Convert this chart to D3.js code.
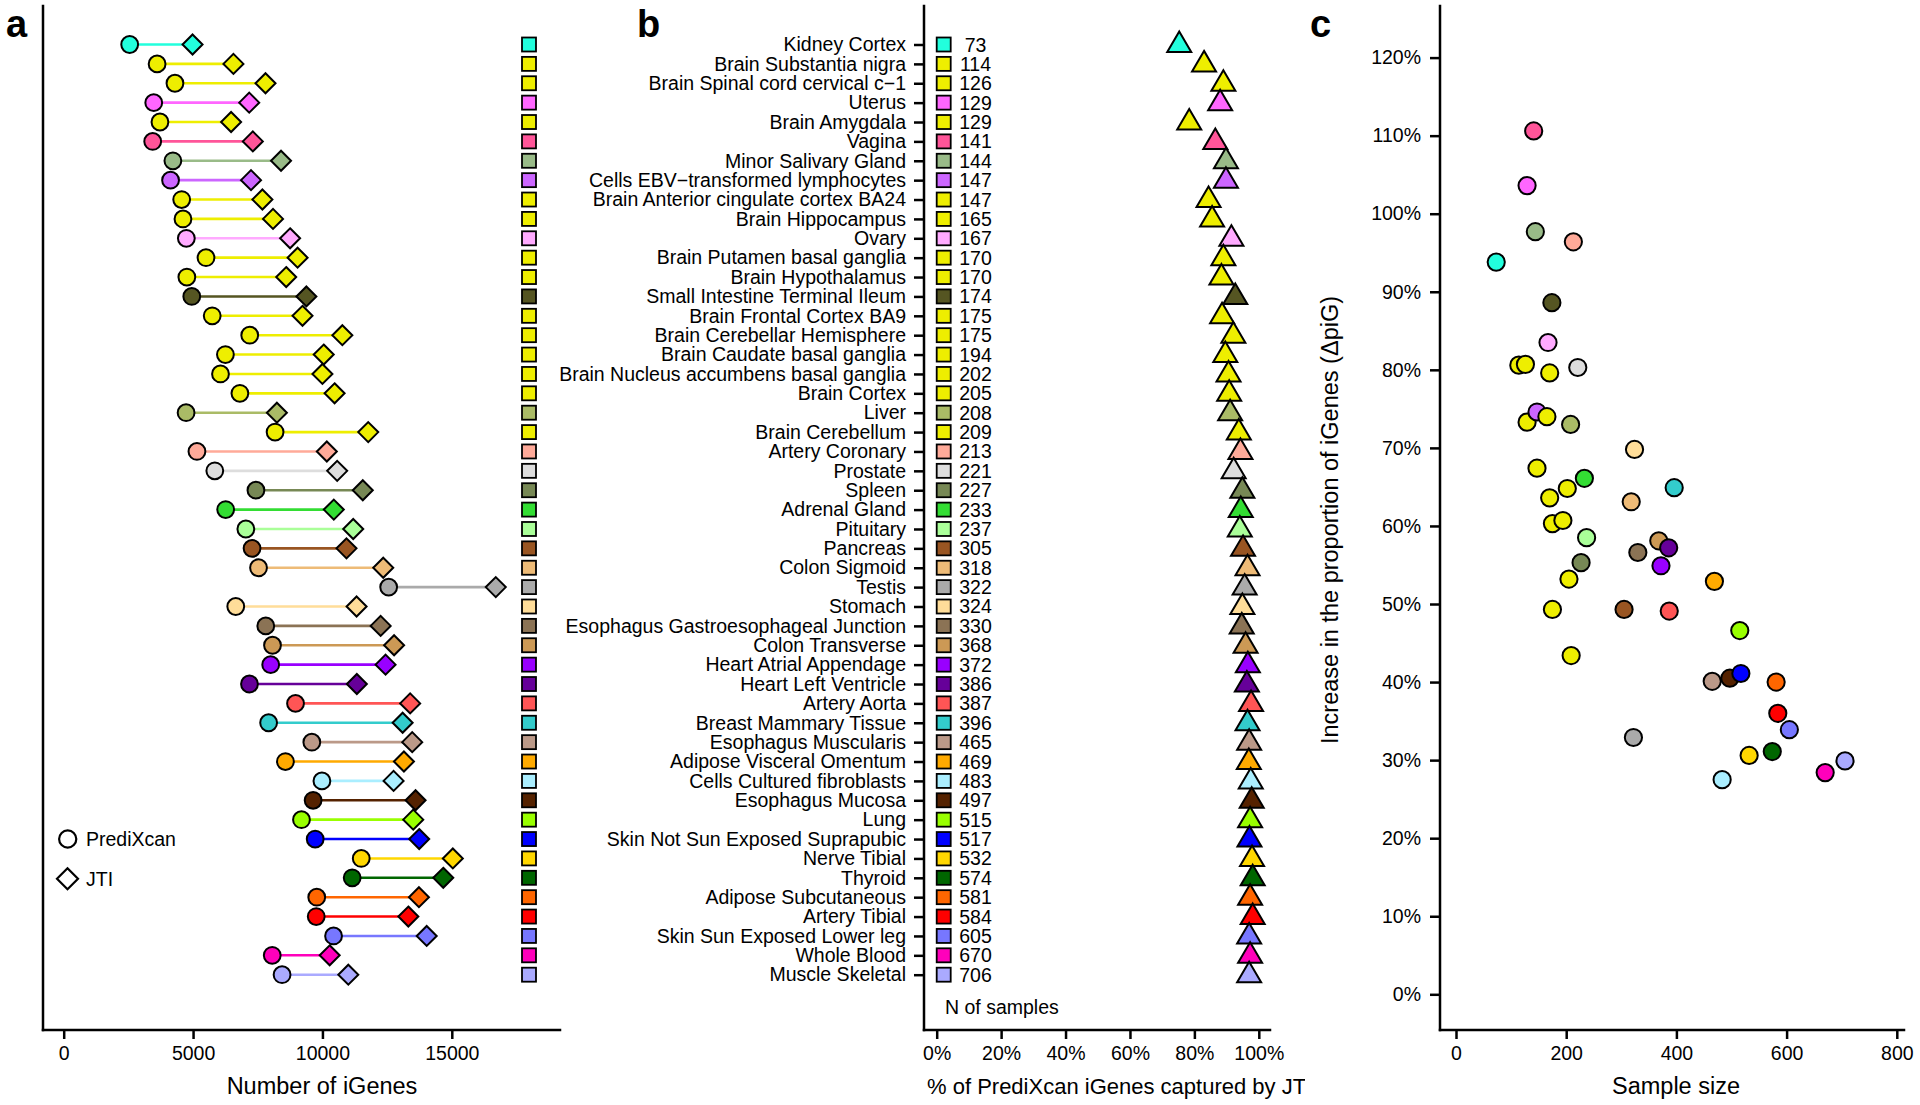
<!DOCTYPE html>
<html><head><meta charset="utf-8">
<script src="https://cdn.jsdelivr.net/npm/d3@7/dist/d3.min.js"></script>
<style>
body{margin:0;background:#fff}
svg{display:block}
text{font-family:"Liberation Sans",Arial,Helvetica,sans-serif;fill:#000}
</style>
</head><body>
<svg id="chart" width="1920" height="1105"></svg>
<script>
const tissues = ["Kidney Cortex","Brain Substantia nigra","Brain Spinal cord cervical c\u22121","Uterus","Brain Amygdala","Vagina","Minor Salivary Gland","Cells EBV\u2212transformed lymphocytes","Brain Anterior cingulate cortex BA24","Brain Hippocampus","Ovary","Brain Putamen basal ganglia","Brain Hypothalamus","Small Intestine Terminal Ileum","Brain Frontal Cortex BA9","Brain Cerebellar Hemisphere","Brain Caudate basal ganglia","Brain Nucleus accumbens basal ganglia","Brain Cortex","Liver","Brain Cerebellum","Artery Coronary","Prostate","Spleen","Adrenal Gland","Pituitary","Pancreas","Colon Sigmoid","Testis","Stomach","Esophagus Gastroesophageal Junction","Colon Transverse","Heart Atrial Appendage","Heart Left Ventricle","Artery Aorta","Breast Mammary Tissue","Esophagus Muscularis","Adipose Visceral Omentum","Cells Cultured fibroblasts","Esophagus Mucosa","Lung","Skin Not Sun Exposed Suprapubic","Nerve Tibial","Thyroid","Adipose Subcutaneous","Artery Tibial","Skin Sun Exposed Lower leg","Whole Blood","Muscle Skeletal"];
const sampleSize = [73,114,126,129,129,141,144,147,147,165,167,170,170,174,175,175,194,202,205,208,209,213,221,227,233,237,305,318,322,324,330,368,372,386,387,396,465,469,483,497,515,517,532,574,581,584,605,670,706];
const tissueColors = ["#22FFDD","#EEEE00","#EEEE00","#FF66FF","#EEEE00","#FF5599","#99BB88","#CC66FF","#EEEE00","#EEEE00","#FFAAFF","#EEEE00","#EEEE00","#555522","#EEEE00","#EEEE00","#EEEE00","#EEEE00","#EEEE00","#AABB66","#EEEE00","#FFAA99","#DDDDDD","#778855","#33DD33","#AAFF99","#995522","#EEBB77","#AAAAAA","#FFDD99","#8B7355","#CC9955","#9900FF","#660099","#FF5555","#33CCCC","#BB9988","#FFAA00","#AAEEFF","#552200","#99FF00","#0000FF","#FFD700","#006600","#FF6600","#FF0000","#7777FF","#FF00BB","#AAAAFF"];
const prediXcanIGenes = [2550,3610,4300,3480,3720,3440,4220,4130,4560,4610,4740,5500,4760,4950,5740,7190,6250,6060,6810,4730,8170,5150,5840,7430,6260,7040,7280,7530,12560,6650,7810,8070,8000,7180,8960,7920,9590,8570,9980,9640,9190,9720,11500,11150,9780,9760,10430,8060,8440];
const jtiIGenes = [4980,6560,7800,7170,6470,7310,8400,7240,7680,8090,8750,9040,8600,9380,9230,10770,10050,10000,10470,8240,11770,10170,10570,11560,10440,11190,10930,12350,16700,11320,12250,12770,12440,11330,13390,13100,13470,13150,12750,13600,13510,13740,15040,14670,13730,13320,14030,10280,11000];
const pctCaptured = [75.3,83.0,89.0,88.0,78.4,86.5,89.8,89.8,84.4,85.5,91.5,89.0,88.4,92.7,88.6,92.1,89.6,90.6,90.8,91.1,93.8,94.3,92.2,94.9,94.4,94.1,95.1,96.5,95.6,94.9,94.7,95.9,96.6,96.3,97.6,96.5,97.0,96.9,97.5,97.8,97.3,97.1,97.9,98.1,97.3,98.1,97.0,97.3,97.0];
const deltaPiG = [93.8,80.6,80.7,103.6,73.3,110.6,97.7,74.6,67.4,74.0,83.5,63.6,79.6,88.6,60.3,49.3,60.7,64.8,53.2,73.0,43.4,96.4,80.3,55.3,66.1,58.5,49.3,63.1,32.9,69.8,56.6,58.1,54.9,57.2,49.1,64.9,40.1,52.9,27.5,40.5,46.6,41.1,30.6,31.1,40.0,36.0,33.9,28.4,29.9];
const ticksA = [0,5000,10000,15000];
const ticksB = [0,20,40,60,80,100];
const ticksCx = [0,200,400,600,800];
const ticksCy = [0,10,20,30,40,50,60,70,80,90,100,110,120];

const svg = d3.select("#chart");
const idx = d3.range(tissues.length);
const rowY = d3.scalePoint().domain(idx).range([44.5, 974.7]);
const xA = d3.scaleLinear().domain([0,15000]).range([63.7,451.8]);
const xB = d3.scaleLinear().domain([0,100]).range([936.7,1258.8]);
const xC = d3.scaleLinear().domain([0,800]).range([1456,1896.8]);
const yC = d3.scaleLinear().domain([0,120]).range([994.3,57.6]);
const AX = 1030, LW = 2.5, FS = 19.5, TFS = 23.5;

function styleAxis(g){
  g.select(".domain").remove();
  g.selectAll(".tick line").attr("stroke","#000").attr("stroke-width",LW);
  g.selectAll(".tick text").attr("font-size",FS).attr("fill","#000").attr("font-family",'"Liberation Sans",Arial,sans-serif');
}
function line(x1,y1,x2,y2){svg.append("line").attr("x1",x1).attr("y1",y1).attr("x2",x2).attr("y2",y2).attr("stroke","#000").attr("stroke-width",LW).attr("stroke-linecap","square");}
function label(t,x,y){svg.append("text").attr("x",x).attr("y",y).attr("font-size",38).attr("font-weight","bold").text(t);}

// ---------- Panel a ----------
label("a",6,37);
line(43,6,43,AX); line(43,AX,560,AX);
svg.append("g").attr("transform",`translate(0,${AX})`)
  .call(d3.axisBottom(xA).tickValues(ticksA).tickSize(9).tickPadding(7).tickFormat(d3.format("d")))
  .call(styleAxis);
svg.append("text").attr("x",322).attr("y",1094).attr("text-anchor","middle").attr("font-size",TFS).text("Number of iGenes");

const ga = svg.append("g");
ga.selectAll("line.seg").data(idx).join("line")
  .attr("x1",i=>xA(prediXcanIGenes[i])).attr("x2",i=>xA(jtiIGenes[i]))
  .attr("y1",i=>rowY(i)).attr("y2",i=>rowY(i))
  .attr("stroke",i=>tissueColors[i]).attr("stroke-width",2.6);
ga.selectAll("path.dia").data(idx).join("path")
  .attr("d","M0,-10L10,0L0,10L-10,0Z")
  .attr("transform",i=>`translate(${xA(jtiIGenes[i])},${rowY(i)})`)
  .attr("fill",i=>tissueColors[i]).attr("stroke","#000").attr("stroke-width",2);
ga.selectAll("circle").data(idx).join("circle")
  .attr("cx",i=>xA(prediXcanIGenes[i])).attr("cy",i=>rowY(i)).attr("r",8.4)
  .attr("fill",i=>tissueColors[i]).attr("stroke","#000").attr("stroke-width",2);
ga.selectAll("rect").data(idx).join("rect")
  .attr("x",529-7).attr("y",i=>rowY(i)-7).attr("width",14).attr("height",14)
  .attr("fill",i=>tissueColors[i]).attr("stroke","#000").attr("stroke-width",1.8);
// legend
svg.append("circle").attr("cx",67.7).attr("cy",839).attr("r",8.6).attr("fill","#fff").attr("stroke","#000").attr("stroke-width",2.2);
svg.append("text").attr("x",86).attr("y",846).attr("font-size",FS).text("PrediXcan");
svg.append("path").attr("d","M0,-10.5L10.5,0L0,10.5L-10.5,0Z").attr("transform","translate(67.5,878.7)").attr("fill","#fff").attr("stroke","#000").attr("stroke-width",2.2);
svg.append("text").attr("x",86).attr("y",885.5).attr("font-size",FS).text("JTI");

// ---------- Panel b ----------
label("b",637,37);
line(924,6,924,AX); line(924,AX,1270,AX);
svg.append("g").attr("transform","translate(924,0)")
  .call(d3.axisLeft(rowY).tickSize(10).tickPadding(8).tickFormat(i=>tissues[i]))
  .call(styleAxis);
svg.append("g").attr("transform",`translate(0,${AX})`)
  .call(d3.axisBottom(xB).tickValues(ticksB).tickSize(9).tickPadding(7).tickFormat(d=>d+"%"))
  .call(styleAxis);
const gb = svg.append("g");
gb.selectAll("rect").data(idx).join("rect")
  .attr("x",943.7-7).attr("y",i=>rowY(i)-7).attr("width",14).attr("height",14)
  .attr("fill",i=>tissueColors[i]).attr("stroke","#000").attr("stroke-width",1.8);
gb.selectAll("text").data(idx).join("text")
  .attr("x",975.5).attr("y",i=>rowY(i)+7).attr("text-anchor","middle").attr("font-size",FS)
  .text(i=>sampleSize[i]);
gb.selectAll("path").data(idx).join("path")
  .attr("d","M0,-12L12,8.5L-12,8.5Z")
  .attr("transform",i=>`translate(${xB(pctCaptured[i])},${rowY(i)-1})`)
  .attr("fill",i=>tissueColors[i]).attr("stroke","#000").attr("stroke-width",2).attr("stroke-linejoin","miter");
svg.append("text").attr("x",945).attr("y",1014).attr("font-size",FS).text("N of samples");
svg.append("clipPath").attr("id","clipB").append("rect").attr("x",600).attr("y",1060).attr("width",705).attr("height",45);
svg.append("text").attr("clip-path","url(#clipB)").attr("x",927).attr("y",1094).attr("font-size",22).text("% of PrediXcan iGenes captured by JTI");

// ---------- Panel c ----------
label("c",1310,37);
line(1440,6,1440,AX); line(1440,AX,1904,AX);
svg.append("g").attr("transform","translate(1440,0)")
  .call(d3.axisLeft(yC).tickValues(ticksCy).tickSize(10).tickPadding(9).tickFormat(d=>d+"%"))
  .call(styleAxis);
svg.append("g").attr("transform",`translate(0,${AX})`)
  .call(d3.axisBottom(xC).tickValues(ticksCx).tickSize(9).tickPadding(7))
  .call(styleAxis);
svg.append("text").attr("x",1676).attr("y",1094).attr("text-anchor","middle").attr("font-size",TFS).text("Sample size");
svg.append("text").attr("transform","translate(1338,520) rotate(-90)").attr("text-anchor","middle").attr("font-size",TFS)
  .text("Increase in the proportion of iGenes (\u0394piG)");
svg.append("g").selectAll("circle").data(idx).join("circle")
  .attr("cx",i=>xC(sampleSize[i])).attr("cy",i=>yC(deltaPiG[i])).attr("r",8.6)
  .attr("fill",i=>tissueColors[i]).attr("stroke","#000").attr("stroke-width",2);
</script>
</body></html>
